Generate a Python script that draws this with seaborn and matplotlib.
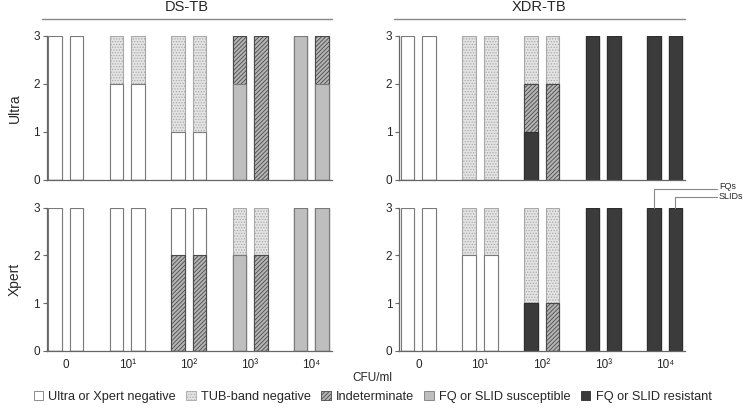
import numpy as np
import pandas as pd
import matplotlib
matplotlib.use('Agg')
import matplotlib.pyplot as plt
from matplotlib.patches import Patch
import seaborn as sns

# CFU/ml levels and the two drug classes shown as paired bars
cfu_levels = ['0', '10¹', '10²', '10³', '10⁴']
drugs = ['FQs', 'SLIDs']

# result categories, stacked from bottom to top
stack_order = ['FQ or SLID resistant', 'FQ or SLID susceptible', 'Indeterminate',
               'Ultra or Xpert negative', 'TUB-band negative']
legend_order = ['Ultra or Xpert negative', 'TUB-band negative', 'Indeterminate',
                'FQ or SLID susceptible', 'FQ or SLID resistant']

# counts per CFU level, keys in stack_order (res, susc, indet, neg, tub)
ds_ultra = {
    'FQs':   [[0, 0, 0, 0, 0], [0, 0, 0, 2, 3], [0, 0, 0, 1, 0], [3, 2, 1, 0, 0], [0, 1, 2, 0, 0]],
    'SLIDs': [[0, 0, 0, 0, 0], [0, 0, 0, 0, 2], [0, 0, 0, 3, 1], [3, 2, 1, 0, 0], [0, 1, 2, 0, 0]],
}
xdr_ultra = {
    'FQs':   [[0, 0, 1, 3, 3], [0, 0, 0, 0, 0], [0, 0, 1, 0, 0], [3, 0, 0, 0, 0], [0, 3, 1, 0, 0]],
    'SLIDs': [[0, 0, 0, 3, 3], [0, 0, 0, 0, 0], [0, 0, 2, 0, 0], [3, 0, 0, 0, 0], [0, 3, 1, 0, 0]],
}
ds_xpert = {
    'FQs':   [[0, 0, 0, 0, 0], [0, 0, 0, 2, 3], [0, 0, 2, 0, 0], [3, 3, 1, 0, 0], [0, 0, 0, 1, 0]],
    'SLIDs': [[0, 0, 0, 0, 0], [0, 0, 0, 0, 3], [0, 0, 2, 2, 0], [3, 3, 1, 0, 0], [0, 0, 0, 1, 0]],
}
xdr_xpert = {
    'FQs':   [[0, 0, 1, 3, 3], [0, 0, 0, 0, 0], [0, 0, 0, 0, 0], [3, 2, 0, 0, 0], [0, 1, 2, 0, 0]],
    'SLIDs': [[0, 0, 0, 3, 3], [0, 0, 0, 0, 0], [0, 0, 1, 0, 0], [3, 2, 0, 0, 0], [0, 1, 2, 0, 0]],
}

styles = {
    'Ultra or Xpert negative': dict(face='white', edge='#7a7a7a', hatch=''),
    'TUB-band negative': dict(face='#e4e4e4', edge='#a8a8a8', hatch='......'),
    'Indeterminate': dict(face='#b4b4b4', edge='#4a4a4a', hatch='////////'),
    'FQ or SLID susceptible': dict(face='#bebebe', edge='#7a7a7a', hatch=''),
    'FQ or SLID resistant': dict(face='#3b3b3b', edge='#2e2e2e', hatch=''),
}

BAR_W = 0.70
GAP = 0.37

sns.set_style('white')
plt.rcParams['font.family'] = ['Liberation Sans', 'DejaVu Sans']
plt.rcParams['hatch.linewidth'] = 0.6


def draw_panel(ax, data):
    rows = []
    for drug in drugs:
        cum = np.array(data[drug]).cumsum(axis=0)
        for i, cat in enumerate(stack_order):
            for j, lvl in enumerate(cfu_levels):
                rows.append(dict(cfu=lvl, drug=drug, cat=cat, top=cum[i, j]))
    df = pd.DataFrame(rows)
    for cat in reversed(stack_order):
        st = styles[cat]
        sns.barplot(data=df[df.cat == cat], x='cfu', y='top', hue='drug',
                    order=cfu_levels, hue_order=drugs, palette=[st['face']] * 2,
                    saturation=1, width=BAR_W, gap=GAP, errorbar=None, legend=False,
                    edgecolor=st['edge'], linewidth=0.8, hatch=st['hatch'], ax=ax)
    ax.set_xlim(-0.31, 4.33)
    ax.set_ylim(0, 3)
    ax.set_yticks([0, 1, 2, 3])
    ax.set_xlabel('')
    ax.set_ylabel('')
    for s in ['top', 'right']:
        ax.spines[s].set_visible(False)
    for s in ['left', 'bottom']:
        ax.spines[s].set_color('#666666')
        ax.spines[s].set_linewidth(0.9)
    ax.tick_params(axis='y', length=3, width=0.8, color='#666666', labelsize=8.5,
                   pad=2, left=True)
    ax.tick_params(axis='x', length=0, labelsize=8.5, pad=6)


fig = plt.figure(figsize=(7.45, 4.09), dpi=100)
ax_ul = fig.add_axes([0.0627, 0.560, 0.3826, 0.352])
ax_ur = fig.add_axes([0.5360, 0.560, 0.3835, 0.352])
ax_bl = fig.add_axes([0.0627, 0.142, 0.3826, 0.350])
ax_br = fig.add_axes([0.5360, 0.142, 0.3835, 0.350])

for ax, data in [(ax_ul, ds_ultra), (ax_ur, xdr_ultra), (ax_bl, ds_xpert), (ax_br, xdr_xpert)]:
    draw_panel(ax, data)

for ax in [ax_ul, ax_ur]:
    ax.set_xticklabels([])

ax_ul.set_ylabel('Ultra', fontsize=10, labelpad=8)
ax_bl.set_ylabel('Xpert', fontsize=10, labelpad=8)

# group headers with a rule underneath
for ax, title in [(ax_ul, 'DS-TB'), (ax_ur, 'XDR-TB')]:
    ax.plot([-0.018, 1.0], [1.118, 1.118], transform=ax.transAxes, clip_on=False,
            color='#888888', lw=1)
    ax.text(0.49, 1.20, title, transform=ax.transAxes, ha='center', va='center',
            fontsize=10.5)

# FQs / SLIDs callouts on the last pair of bars
off = BAR_W / 4
ax_br.plot([4 - off, 4 - off, 4.85], [3, 3.40, 3.40], color='#888888', lw=0.8, clip_on=False)
ax_br.plot([4 + off, 4 + off, 4.85], [3, 3.22, 3.22], color='#888888', lw=0.8, clip_on=False)
ax_br.text(4.88, 3.44, 'FQs', fontsize=6.5, va='center', ha='left')
ax_br.text(4.88, 3.24, 'SLIDs', fontsize=6.5, va='center', ha='left')

fig.text(0.5, 0.076, 'CFU/ml', ha='center', va='center', fontsize=8.5)

handles = [Patch(facecolor=styles[c]['face'], edgecolor=styles[c]['edge'],
                 hatch=styles[c]['hatch'], linewidth=0.6) for c in legend_order]
fig.legend(handles, legend_order, loc='center', bbox_to_anchor=(0.5, 0.03), ncol=5,
           frameon=False, fontsize=9.2, handlelength=0.75, handleheight=0.75,
           handletextpad=0.4, columnspacing=0.8, borderaxespad=0)

fig.savefig('out.png', dpi=100)
